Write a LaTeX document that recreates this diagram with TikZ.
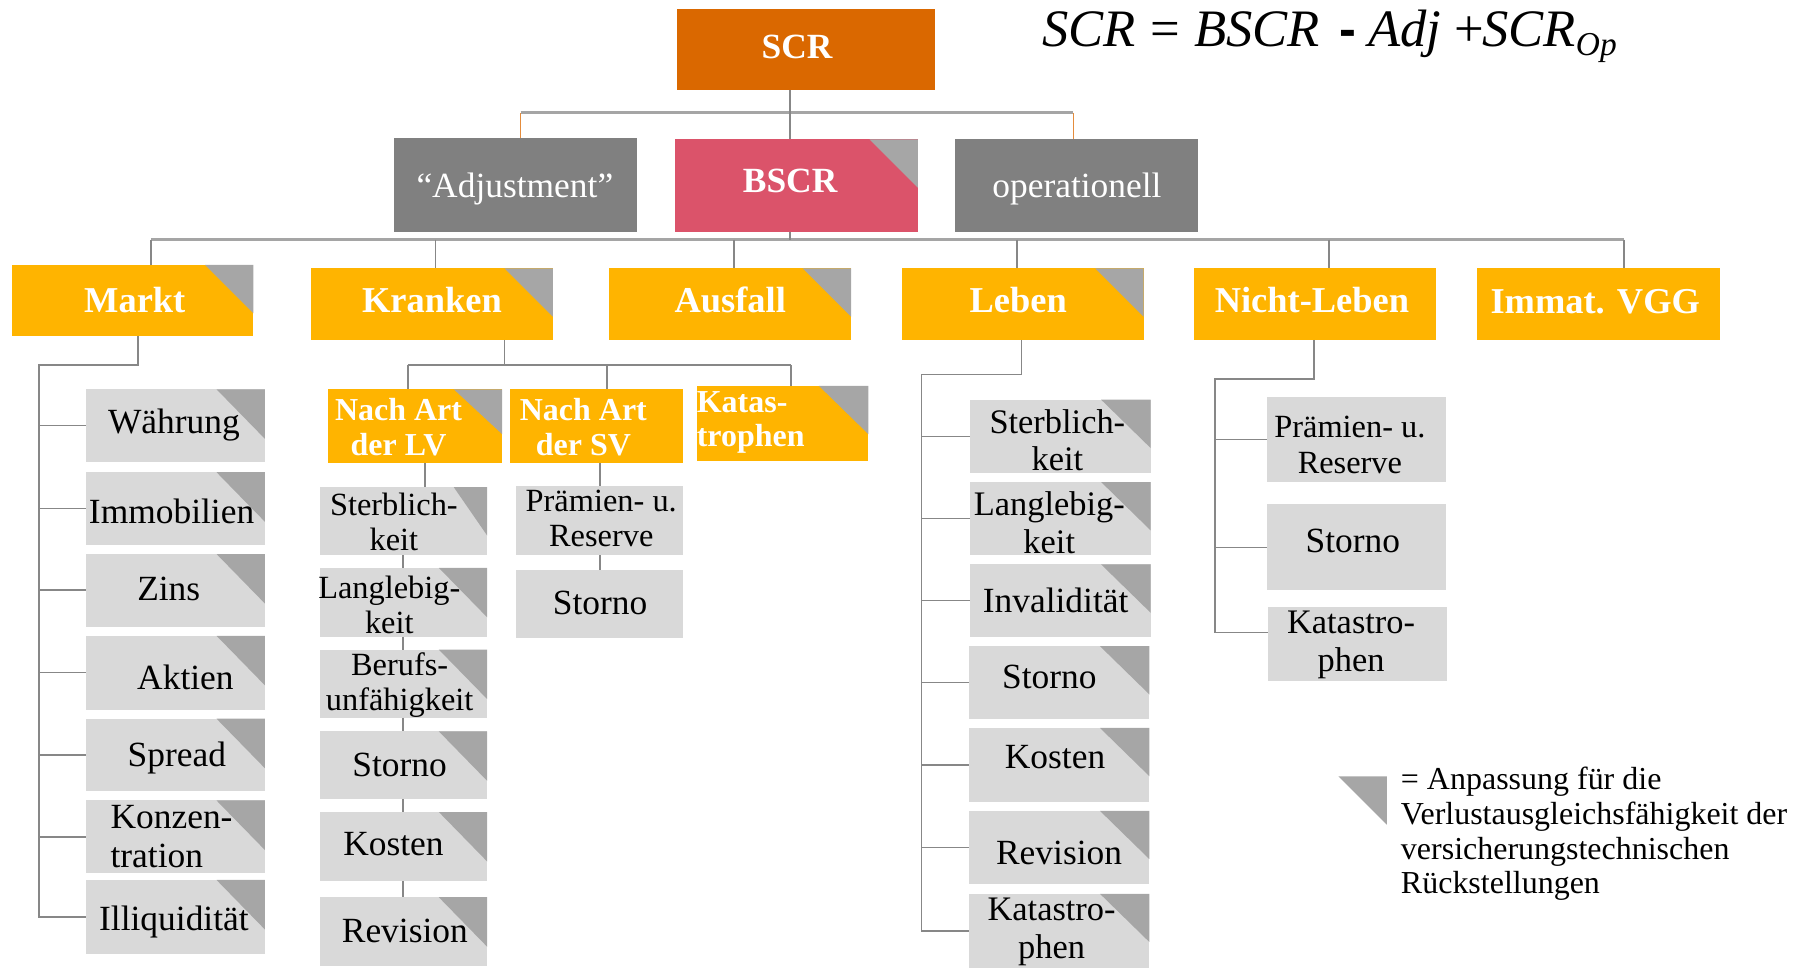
\documentclass[tikz,border=0pt]{standalone}
\usepackage{fontspec}
\setmainfont{Liberation Serif}
\newfontfamily\sansf{Liberation Sans}
\newfontfamily\formfont{Liberation Serif Italic}
\usetikzlibrary{fit,calc}

\definecolor{scrorange}{RGB}{218,104,0}
\definecolor{bscrred}{RGB}{219,83,106}
\definecolor{boxgray}{RGB}{128,128,128}
\definecolor{amber}{RGB}{255,180,0}
\definecolor{lightbox}{RGB}{217,217,217}
\definecolor{cornergray}{RGB}{166,166,166}
\definecolor{linegray}{RGB}{135,135,135}
\definecolor{busgray}{RGB}{165,165,165}
\definecolor{linkorange}{RGB}{228,140,60}

% box from corner (x1,y1) to (x2,y2), named #6
\newcommand\bx[6]{\node[#1, fit={(#2,#3) (#4,#5)}] (#6) {};}
% grey corner flag in the top right of a box: width #2, height #3
\newcommand\flag[3]{\fill[cornergray] (#1.north east) -- ++(-#2,0) -- ++(#2,#3) -- cycle;}

\begin{document}
\begin{tikzpicture}[x=0.02cm,y=-0.02cm,
  boxbase/.style={rectangle, inner sep=0pt, outer sep=0pt, draw=none},
  scrbox/.style={boxbase, fill=scrorange},
  bscrbox/.style={boxbase, fill=bscrred},
  graybox/.style={boxbase, fill=boxgray},
  riskbox/.style={boxbase, fill=amber},
  subbox/.style={boxbase, fill=lightbox},
  txt/.style={inner sep=0pt, outer sep=0pt, anchor=center},
  one/.style={txt, text height=12pt, text depth=3.5pt, yshift=-1.7pt},
  headtxt/.style={one, text=white, font=\bfseries\fontsize{17.5}{20}\selectfont},
  headreg/.style={one, text=white, font=\fontsize{17.5}{20}\selectfont},
  risktxt/.style={one, text=white, font=\bfseries\fontsize{18}{20}\selectfont},
  subrisk/.style={txt, text=white, align=center, font=\bfseries\fontsize{15.8}{17}\selectfont},
  leaf/.style={one, font=\fontsize{17.5}{20}\selectfont},
  leaftwo/.style={txt, align=center, font=\fontsize{16}{17.2}\selectfont},
  leafmid/.style={txt, align=center, font=\fontsize{17}{18.5}\selectfont},
  formpart/.style={anchor=base west, inner sep=0pt, outer sep=0pt, font=\formfont\fontsize{26}{28}\selectfont},
  formsign/.style={anchor=base west, inner sep=0pt, outer sep=0pt, font=\fontsize{26}{28}\selectfont},
  ln/.style={draw=linegray, line width=0.8pt},
  bus/.style={draw=busgray, line width=1.4pt},
  oln/.style={draw=linkorange, line width=0.6pt}]
\useasboundingbox (0,0) rectangle (1568,840.4);

% ---------- formula ----------
\node[formpart] (f1) at (905,40.5) {SCR};
\node[formsign] (f2) at (999,40.5) {=};
\node[formpart] (f3) at (1037,40.5) {BSCR};
\node[formsign, font=\sansf\bfseries\fontsize{25}{28}\selectfont] (f4) at (1163,40.5) {-};
\node[formpart] (f5) at (1188,40.5) {Adj};
\node[formsign] (f6) at (1263,40.5) {+};
\node[formpart] (f7) at (1287,40.5) {SCR};
\node[formpart, anchor=base west, font=\formfont\fontsize{16.5}{18}\selectfont, yshift=-4.2pt] (f8) at (f7.base east) {Op};

% ---------- top levels ----------
\bx{scrbox}{588}{8}{812}{78}{scr}
\node[headtxt] (scrt) at (692,40) {SCR};

\bx{graybox}{342}{120}{553}{201}{adj}
\node[headreg] (adjt) at (447,161) {“Adjustment”};
\bx{bscrbox}{586}{121}{797}{201}{bscr}
\flag{bscr}{42}{42}
\node[headtxt] (bscrt) at (686,157) {BSCR};
\bx{graybox}{829}{121}{1040}{201}{op}
\node[headreg] (opt) at (935,161) {operationell};

% ---------- risk modules ----------
\bx{riskbox}{10}{230}{220}{292}{markt}      \flag{markt}{42}{42}
\bx{riskbox}{270}{233}{480}{295}{kranken}   \flag{kranken}{42}{42}
\bx{riskbox}{529}{233}{739}{295}{ausfall}   \flag{ausfall}{42}{42}
\bx{riskbox}{783}{233}{993}{295}{leben}     \flag{leben}{42}{42}
\bx{riskbox}{1037}{233}{1247}{295}{nleben}
\bx{riskbox}{1282}{233}{1493}{295}{immat}
\node[risktxt] (marktt) at (117,261) {Markt};
\node[risktxt] (krankent) at (375,261) {Kranken};
\node[risktxt] (ausfallt) at (634,261) {Ausfall};
\node[risktxt] (lebent) at (884,261) {Leben};
\node[risktxt] (nlebent) at (1139,261) {Nicht-Leben};
\node[risktxt] (immatt) at (1385,262) {Immat. VGG};

% ---------- Markt ----------
\bx{subbox}{75}{338}{230}{401}{m1} \flag{m1}{42}{43}
\bx{subbox}{75}{410}{230}{473}{m2} \flag{m2}{42}{43}
\bx{subbox}{75}{481}{230}{544}{m3} \flag{m3}{42}{43}
\bx{subbox}{75}{552}{230}{616}{m4} \flag{m4}{42}{43}
\bx{subbox}{75}{624}{230}{687}{m5} \flag{m5}{42}{43}
\bx{subbox}{75}{695}{230}{758}{m6} \flag{m6}{42}{43}
\bx{subbox}{75}{764}{230}{828}{m7} \flag{m7}{42}{43}
\node[leaf] (m1t) at (151,366) {Währung};
\node[leaf] (m2t) at (149,444) {Immobilien};
\node[leaf] (m3t) at (146.5,511) {Zins};
\node[leaf] (m4t) at (161,588) {Aktien};
\node[leaf] (m5t) at (153.5,655) {Spread};
\node[txt, anchor=west, align=left, font=\fontsize{17.5}{19.3}\selectfont] (m6t) at (96,726) {Konzen-\\tration};
\node[leaf] (m7t) at (151,797) {Illiquidität};

% ---------- Kranken ----------
\bx{riskbox}{285}{338}{436}{402}{lv}  \flag{lv}{42}{39}
\bx{riskbox}{443}{338}{593}{402}{sv}
\bx{riskbox}{605}{335}{754}{400}{kat} \flag{kat}{43}{42}
\node[subrisk] (lvt) at (346,371) {Nach Art\\der LV};
\node[subrisk] (svt) at (506.5,371) {Nach Art\\der SV};
\node[subrisk, anchor=west, align=left] (katt) at (605,367) {Katas-\\trophen};

\bx{subbox}{278}{423}{423}{482}{l1} \flag{l1}{29}{42}
\bx{subbox}{278}{493}{423}{553}{l2} \flag{l2}{42}{43}
\bx{subbox}{278}{564}{423}{623}{l3} \flag{l3}{42}{43}
\bx{subbox}{278}{635}{423}{694}{l4} \flag{l4}{42}{43}
\bx{subbox}{278}{705}{423}{765}{l5} \flag{l5}{42}{43}
\bx{subbox}{278}{779}{423}{839}{l6} \flag{l6}{42}{43}
\node[leaftwo] (l1t) at (342,453) {Sterblich-\\keit};
\node[leaftwo] (l2t) at (338,525) {Langlebig-\\keit};
\node[leaftwo] (l3t) at (347,595) {Berufs-\\unfähigkeit};
\node[leaf] (l4t) at (347,664) {Storno};
\node[leaf] (l5t) at (341.6,732) {Kosten};
\node[leaf] (l6t) at (351.5,807.5) {Revision};

\bx{subbox}{448}{422}{593}{482}{s1}
\bx{subbox}{448}{494.5}{593}{554}{s2}
\node[leaftwo] (s1t) at (522,450) {Prämien- u.\\Reserve};
\node[leaf] (s2t) at (521,522.7) {Storno};

% ---------- Leben ----------
\bx{subbox}{842}{347}{999}{411}{b1} \flag{b1}{43}{42}
\bx{subbox}{842}{418.5}{999}{482}{b2} \flag{b2}{43}{42}
\bx{subbox}{842}{490}{999}{553}{b3} \flag{b3}{43}{42}
\bx{subbox}{841}{561}{998}{624}{b4} \flag{b4}{43}{42}
\bx{subbox}{841}{632}{998}{696}{b5} \flag{b5}{43}{42}
\bx{subbox}{841}{704}{998}{767.5}{b6} \flag{b6}{43}{42}
\bx{subbox}{841}{776}{998}{840.4}{b7} \flag{b7}{43}{42}
\node[leafmid] (b1t) at (918,382) {Sterblich-\\keit};
\node[leafmid] (b2t) at (911,454) {Langlebig-\\keit};
\node[leaf] (b3t) at (916.5,521) {Invalidität};
\node[leaf] (b4t) at (911,587) {Storno};
\node[leaf] (b5t) at (916,657) {Kosten};
\node[leaf] (b6t) at (919.5,740) {Revision};
\node[leafmid] (b7t) at (913,809) {Katastro-\\phen};

% ---------- Nicht-Leben ----------
\bx{subbox}{1100}{344.5}{1255}{418.5}{n1}
\bx{subbox}{1100}{438}{1255}{512.6}{n2}
\bx{subbox}{1101}{527}{1256}{591.5}{n3}
\node[leaftwo, font=\fontsize{16}{17.6}\selectfont] (n1t) at (1172,386.5) {Prämien- u.\\Reserve};
\node[leaf] (n2t) at (1174.5,469) {Storno};
\node[leafmid] (n3t) at (1173,560) {Katastro-\\phen};

% ---------- connectors ----------
\coordinate (jA) at (686,98);
\coordinate (jAl) at (452,98);
\coordinate (jAr) at (932,98);
\draw[bus] (jAl) -- (jAr);
\draw[ln] (jA |- scr.south) -- (jA |- bscr.north);
\draw[oln] (jAl) -- (jAl |- adj.north);
\draw[oln] (jAr) -- (jAr |- op.north);

\coordinate (jB) at (686,208);
\coordinate (jB1) at (131,208);
\coordinate (jB2) at (378,208);
\coordinate (jB3) at (637,208);
\coordinate (jB4) at (883,208);
\coordinate (jB5) at (1154,208);
\coordinate (jB6) at (1410,208);
\draw[bus] (jB1) -- (jB6);
\draw[ln] (jB |- bscr.south) -- (jB);
\draw[ln] (jB1) -- (jB1 |- markt.north);
\draw[ln] (jB2) -- (jB2 |- kranken.north);
\draw[ln] (jB3) -- (jB3 |- ausfall.north);
\draw[ln] (jB4) -- (jB4 |- leben.north);
\draw[ln] (jB5) -- (jB5 |- nleben.north);
\draw[ln] (jB6) -- (jB6 |- immat.north);

% Markt
\coordinate (jM) at (120,317);
\coordinate (jMl) at (34,317);
\draw[ln] (jM |- markt.south) -- (jM) -- (jMl) -- (jMl |- m7.west) -- (m7.west);
\foreach \c in {m1,m2,m3,m4,m5,m6} \draw[ln] (jMl |- \c.west) -- (\c.west);

% Kranken
\coordinate (jK) at (438,317);
\coordinate (jK1) at (354,317);
\coordinate (jK2) at (527,317);
\coordinate (jK3) at (687,317);
\draw[ln] (jK |- kranken.south) -- (jK);
\draw[ln] (jK1) -- (jK3);
\draw[ln] (jK1) -- (jK1 |- lv.north);
\draw[ln] (jK2) -- (jK2 |- sv.north);
\draw[ln] (jK3) -- (jK3 |- kat.north);
\coordinate (xL) at (369,0);
\coordinate (xL2) at (350,0);
\draw[ln] (lv.south -| xL) -- (l1.north -| xL);
\draw[ln] (l1.south -| xL2) -- (l2.north -| xL2);
\draw[ln] (l2.south -| xL2) -- (l3.north -| xL2);
\draw[ln] (l3.south -| xL2) -- (l4.north -| xL2);
\draw[ln] (l4.south -| xL2) -- (l5.north -| xL2);
\draw[ln] (l5.south -| xL2) -- (l6.north -| xL2);
\coordinate (xS) at (521,0);
\draw[ln] (sv.south -| xS) -- (s1.north -| xS);
\draw[ln] (s1.south -| xS) -- (s2.north -| xS);

% Leben
\coordinate (jL) at (887,325);
\coordinate (jLl) at (800,325);
\draw[ln] (jL |- leben.south) -- (jL) -- (jLl) -- (jLl |- b7.west) -- (b7.west);
\foreach \c in {b1,b2,b3,b4,b5,b6} \draw[ln] (jLl |- \c.west) -- (\c.west);

% Nicht-Leben
\coordinate (jN) at (1141,329);
\coordinate (jNl) at (1055,329);
\coordinate (n3in) at ([yshift=0.2cm]n3.west);
\draw[ln] (jN |- nleben.south) -- (jN) -- (jNl) -- (jNl |- n3in) -- (n3in);
\draw[ln] (jNl |- n1.west) -- (n1.west);
\draw[ln] (jNl |- n2.west) -- (n2.west);

% ---------- legend ----------
\coordinate (legtri) at (1162,674);
\fill[cornergray] (legtri) -- ++(42,0) -- ++(0,42) -- cycle;
\node[inner sep=0pt, anchor=west, align=left, font=\fontsize{15.8}{17.1}\selectfont] (legt) at (1216,724)
  {= Anpassung für die\\Verlustausgleichsfähigkeit der\\versicherungstechnischen\\Rückstellungen};
\end{tikzpicture}
\end{document}
